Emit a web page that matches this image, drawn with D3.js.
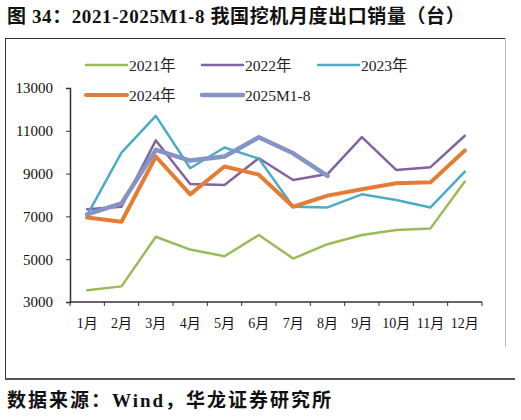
<!DOCTYPE html>
<html>
<head>
<meta charset="utf-8">
<script src="https://cdn.jsdelivr.net/npm/d3@7"></script>
<style>
  body { margin: 0; background: #fff; }
  svg { display: block; }
</style>
</head>
<body>
<svg id="chart" width="521" height="420"></svg>
<script>
// month categories
const months = ["1月", "2月", "3月", "4月", "5月", "6月", "7月", "8月", "9月", "10月", "11月", "12月"];
const yTicks = [3000, 5000, 7000, 9000, 11000, 13000];

// monthly export volumes
const s2021 = [3550, 3730, 6050, 5450, 5140, 6130, 5030, 5700, 6130, 6360, 6440, 8630];
const s2022 = [7330, 7450, 10550, 8510, 8470, 9720, 8700, 8980, 10700, 9170, 9300, 10770];
const s2023 = [7060, 9980, 11700, 9250, 10220, 9700, 7450, 7420, 8030, 7770, 7420, 9090];
const s2024 = [6950, 6750, 9800, 8030, 9330, 8950, 7450, 7970, 8270, 8550, 8590, 10080];
const s2025 = [7090, 7610, 10110, 9610, 9800, 10700, 9950, 8890];

const series = [
  { name: "2021年", values: s2021, color: "#9bbb59", width: 2.5 },
  { name: "2022年", values: s2022, color: "#8064a2", width: 2.5 },
  { name: "2023年", values: s2023, color: "#4bacc6", width: 2.5 },
  { name: "2024年", values: s2024, color: "#e47c34", width: 4 },
  { name: "2025M1-8", values: s2025, color: "#8594c4", width: 4.5 }
];

const serif = "'Liberation Serif', 'Times New Roman', 'Noto Sans CJK SC', serif";
const svg = d3.select("#chart");

// title
svg.append("text")
  .attr("x", 7).attr("y", 23)
  .attr("font-family", serif)
  .attr("font-weight", "bold")
  .attr("font-size", 19)
  .attr("letter-spacing", 0.6)
  .attr("fill", "#111")
  .text("图 34：2021-2025M1-8 我国挖机月度出口销量（台）");

// frame
const frame = svg.append("g").attr("fill", "none").attr("shape-rendering", "crispEdges");
frame.append("line").attr("x1", 5).attr("x2", 505).attr("y1", 38).attr("y2", 38).attr("stroke", "#333");
frame.append("line").attr("x1", 5).attr("x2", 5).attr("y1", 38).attr("y2", 379).attr("stroke", "#333");
frame.append("line").attr("x1", 5).attr("x2", 515).attr("y1", 379).attr("y2", 379).attr("stroke", "#555").attr("stroke-width", 1.5);
frame.append("line").attr("x1", 505).attr("x2", 505).attr("y1", 38).attr("y2", 347).attr("stroke", "#bbb");

// scales
const x = d3.scaleBand().domain(months).range([70, 482]);
const y = d3.scaleLinear().domain([3000, 13000]).range([302, 88]);

// y axis
const yAxis = svg.append("g")
  .attr("transform", "translate(70,0)")
  .call(d3.axisLeft(y).tickValues(yTicks).tickSize(4).tickPadding(13).tickFormat(d3.format("d")));
yAxis.select(".domain").attr("stroke", "#333").attr("stroke-width", 1.5);
yAxis.selectAll(".tick line").attr("stroke", "#333");
yAxis.selectAll("text").attr("font-family", serif).attr("font-size", 15).attr("fill", "#111");

// x axis, ticks between categories
const xAxis = svg.append("g").attr("transform", "translate(0,302)");
xAxis.append("line")
  .attr("x1", 70).attr("x2", 482)
  .attr("stroke", "#333").attr("stroke-width", 1.5);
xAxis.selectAll(".xtick")
  .data(months.concat(["end"]))
  .join("line")
  .attr("class", "xtick")
  .attr("x1", (d, i) => i < months.length ? x(d) : x.range()[1])
  .attr("x2", (d, i) => i < months.length ? x(d) : x.range()[1])
  .attr("y1", 0).attr("y2", 4)
  .attr("stroke", "#333");
xAxis.selectAll(".xlabel")
  .data(months)
  .join("text")
  .attr("class", "xlabel")
  .attr("x", d => x(d) + x.bandwidth() / 2)
  .attr("y", 26)
  .attr("text-anchor", "middle")
  .attr("font-family", serif)
  .attr("font-size", 14)
  .attr("fill", "#111")
  .text(d => d);

// lines
const line = d3.line()
  .x((d, i) => x(months[i]) + x.bandwidth() / 2)
  .y(d => y(d));

svg.append("g").selectAll("path")
  .data(series)
  .join("path")
  .attr("fill", "none")
  .attr("stroke", d => d.color)
  .attr("stroke-width", d => d.width)
  .attr("stroke-linejoin", "round")
  .attr("stroke-linecap", "round")
  .attr("d", d => line(d.values));

// legend
const legendPos = [[86, 65], [202, 65], [318, 65], [86, 95], [202, 95]];
const legend = svg.append("g").selectAll("g")
  .data(series)
  .join("g")
  .attr("transform", (d, i) => `translate(${legendPos[i][0]},${legendPos[i][1]})`);
legend.append("line")
  .attr("x1", 0).attr("x2", 41)
  .attr("stroke", d => d.color)
  .attr("stroke-width", d => d.width)
  .attr("stroke-linecap", "round");
legend.append("text")
  .attr("x", 43).attr("y", 5.5)
  .attr("font-family", serif)
  .attr("font-size", 15.5)
  .attr("fill", "#222")
  .text(d => d.name);

// source
svg.append("text")
  .attr("x", 7).attr("y", 407)
  .attr("font-family", serif)
  .attr("font-weight", "bold")
  .attr("font-size", 19)
  .attr("letter-spacing", 2)
  .attr("fill", "#111")
  .text("数据来源：Wind，华龙证券研究所");
</script>
</body>
</html>
